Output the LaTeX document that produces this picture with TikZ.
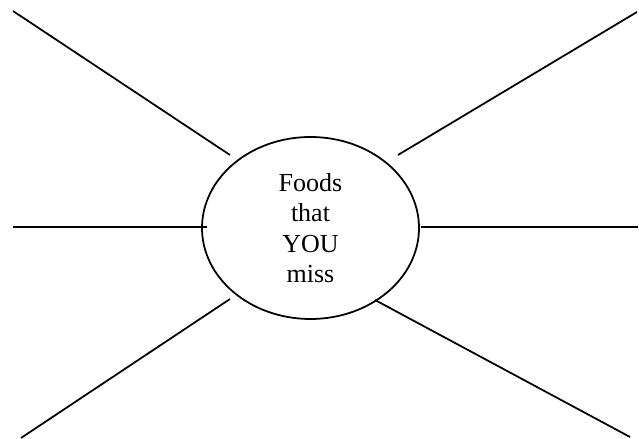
\documentclass[tikz,border=0pt]{standalone}
\usepackage{fontspec}
\setmainfont{Liberation Serif}
\usetikzlibrary{shapes.geometric}
\tikzset{
  hub/.style={ellipse,draw,line width=1pt,minimum width=4.34cm,minimum height=3.64cm,
    inner sep=0pt,align=center,font=\fontsize{14.8}{17.3}\selectfont},
  spoke/.style={draw,line width=1pt},
}
\begin{document}
\begin{tikzpicture}
  \useasboundingbox (0,0) rectangle (12.78,8.78);
  \node[hub] (hub) at (6.21,4.22) {Foods\\that\\YOU\\miss};
  % spoke ends: outer and inner
  \coordinate (tl out) at (0.26,8.56);  \coordinate (tl in) at (4.60,5.68);
  \coordinate (tr out) at (12.74,8.54); \coordinate (tr in) at (7.96,5.68);
  \coordinate (l out) at (0.26,4.24);   \coordinate (l in) at (4.14,4.24);
  \coordinate (r out) at (12.76,4.24);  \coordinate (r in) at (8.42,4.24);
  \coordinate (bl out) at (0.42,0.02);  \coordinate (bl in) at (4.60,2.80);
  \coordinate (br out) at (12.60,0.04); \coordinate (br in) at (7.50,2.78);
  \foreach \s in {tl,tr,l,r,bl,br}
    \draw[spoke] (\s\space out) -- (\s\space in);
\end{tikzpicture}
\end{document}
